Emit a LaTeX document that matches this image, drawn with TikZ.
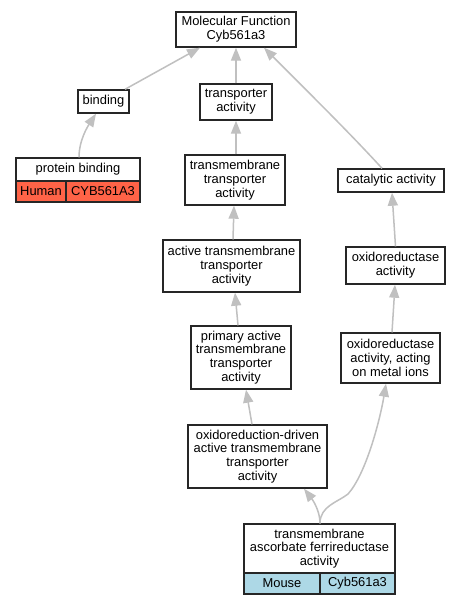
\documentclass[tikz,border=0pt]{standalone}
\usepackage{fontspec}
\setmainfont{Liberation Sans}
\usetikzlibrary{arrows.meta,calc}
\definecolor{edgegray}{HTML}{C0C0C0}
\definecolor{humanred}{HTML}{FF6347}
\definecolor{mouseblue}{HTML}{ADD8E6}
\begin{document}
\begin{tikzpicture}[x=1pt,y=-1pt,
  box/.style={draw=black!85, line width=1.4pt, fill=white, inner sep=0pt, align=center,
    font=\fontsize{12.9}{13.8}\selectfont},
  link/.style={draw=edgegray, line width=1.5pt, -{Triangle[length=13pt,width=10pt]}}]
\fill[white] (0,0) rectangle (461,605);
\useasboundingbox (0,0) rectangle (461,605);
% nodes
\node[box, minimum width=120pt, minimum height=35pt] (mf) at (236,29.5) {Molecular Function\\Cyb561a3};
\node[box, minimum width=51pt, minimum height=23pt] (bind) at (103.5,101.5) {binding};
\node[box, minimum width=72pt, minimum height=36pt] (tr) at (236,102) {transporter\\activity};
\node[box, minimum width=124pt, minimum height=23pt] (pbh) at (78,169.5) {protein binding};
\node[box, fill=humanred, minimum width=50pt, minimum height=21pt] (pbl) at (41,191.5) {Human};
\node[box, fill=humanred, minimum width=74pt, minimum height=21pt] (pbr) at (103,191.5) {CYB561A3};
\node[box, minimum width=100pt, minimum height=50pt] (tmta) at (235,180) {transmembrane\\transporter\\activity};
\node[box, minimum width=106pt, minimum height=23pt] (cat) at (391,180.5) {catalytic activity};
\node[box, minimum width=137pt, minimum height=52pt] (atta) at (231.5,266) {active transmembrane\\transporter\\activity};
\node[box, minimum width=99pt, minimum height=37pt] (oxr) at (395.5,265.5) {oxidoreductase\\activity};
\node[box, minimum width=100pt, minimum height=63pt] (pri) at (241,357.5) {primary active\\transmembrane\\transporter\\activity};
\node[box, minimum width=99pt, minimum height=50pt] (met) at (390.5,358) {oxidoreductase\\activity, acting\\on metal ions};
\node[box, minimum width=139pt, minimum height=63pt] (oxd) at (257.5,456.5) {oxidoreduction-driven\\active transmembrane\\transporter\\activity};
\node[box, minimum width=151pt, minimum height=49pt] (tafa) at (319.5,548.5) {transmembrane\\ascorbate ferrireductase\\activity};
\node[box, fill=mouseblue, minimum width=76pt, minimum height=21pt] (tafal) at (282,583.5) {Mouse};
\node[box, fill=mouseblue, minimum width=75pt, minimum height=21pt] (tafar) at (357.5,583.5) {Cyb561a3};
% edges
\draw[link] ($(bind.north)+(21.5,0)$) -- ($(mf.south)+(-36,0)$);
\draw[link] (tr.north) -- (mf.south);
\draw[link] ($(cat.north)+(-9,0)$) .. controls (347,130) and (302,86) .. ($(mf.south)+(28,0)$);
\draw[link] ($(pbh.north)+(1,0)$) .. controls (79,140) and (88,126) .. ($(bind.south)+(-7.5,0)$);
\draw[link] ($(tmta.north)+(1,0)$) -- (tr.south);
\draw[link] ($(atta.north)+(1.5,0)$) -- ($(tmta.south)+(-1,0)$);
\draw[link] ($(pri.north)+(-3,0)$) -- ($(atta.south)+(3.5,0)$);
\draw[link] ($(oxd.north)+(-5.5,0)$) -- ($(pri.south)+(5,0)$);
\draw[link] ($(oxr.north)+(0,0)$) -- ($(cat.south)+(1,0)$);
\draw[link] ($(met.north)+(1.5,0)$) -- ($(oxr.south)+(-0.5,0)$);
\draw[link] ($(tafa.north)+(0.5,0)$) .. controls (320,510) and (312,499) .. ($(oxd.south)+(46.5,0)$);
\draw[link] ($(tafa.north)+(0.5,0)$) .. controls (320,506) and (338,502) .. (348,494)
  .. controls (366,474) and (380,420) .. ($(met.south)+(-4.5,0)$);
\end{tikzpicture}
\end{document}
